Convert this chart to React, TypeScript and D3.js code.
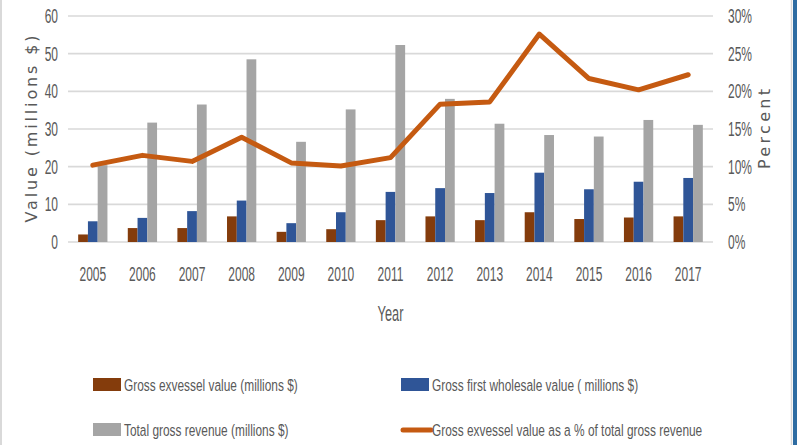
import React from "react";
import * as d3 from "d3";

const years = ["2005","2006","2007","2008","2009","2010","2011","2012","2013","2014","2015","2016","2017"];
const exvessel = [2.0, 3.7, 3.7, 6.8, 2.7, 3.4, 5.8, 6.8, 5.8, 7.9, 6.1, 6.5, 6.8];
const wholesale = [5.5, 6.4, 8.2, 11.0, 5.0, 7.9, 13.3, 14.3, 13.0, 18.4, 14.0, 16.0, 17.0];
const totalRevenue = [20.4, 31.7, 36.5, 48.5, 26.6, 35.2, 52.3, 38.0, 31.4, 28.4, 28.0, 32.4, 31.1];
const pctExvessel = [10.2, 11.5, 10.7, 13.9, 10.5, 10.1, 11.2, 18.3, 18.6, 27.6, 21.7, 20.2, 22.2];

const leftTicks = [0, 10, 20, 30, 40, 50, 60];
const rightTicks = [0, 0.05, 0.1, 0.15, 0.2, 0.25, 0.3];

const barSeries = [
  { key: "exvessel", name: "Gross exvessel value (millions $)", values: exvessel, color: "#843C0C" },
  { key: "wholesale", name: "Gross first wholesale value ( millions $)", values: wholesale, color: "#2F5597" },
  { key: "total", name: "Total gross revenue (millions $)", values: totalRevenue, color: "#A5A5A5" },
];
const lineName = "Gross exvessel value as a % of total gross revenue";
const lineColor = "#C55A11";

const W = 797, H = 445;
const M = { left: 68, right: 713, top: 16, bottom: 242 };
const TXT = "#595959";
const FONT = "'Liberation Sans', Arial, sans-serif";

function SqText({ x, y, sx, size, anchor, children, fill = TXT }: any) {
  return (
    <text transform={`translate(${x},${y}) scale(${sx},1)`} fontSize={size} fontFamily={FONT}
      fill={fill} textAnchor={anchor}>{children}</text>
  );
}

export default function App() {
  const x = d3.scaleBand<string>().domain(years).range([M.left, M.right]).paddingInner(0.41).paddingOuter(0.205);
  const x1 = d3.scaleBand<string>().domain(barSeries.map(s => s.key)).range([0, x.bandwidth()]);
  const y = d3.scaleLinear().domain([0, 60]).range([M.bottom, M.top]);
  const yR = d3.scaleLinear().domain([0, 0.3]).range([M.bottom, M.top]);
  const fmtPct = d3.format(".0%");

  const line = d3.line<number>()
    .x((_, i) => (x(years[i]) as number) + x.bandwidth() / 2)
    .y(d => yR(d / 100));

  const legend = [
    { type: "rect", name: barSeries[0].name, color: barSeries[0].color, lx: 93, ly: 385 },
    { type: "rect", name: barSeries[1].name, color: barSeries[1].color, lx: 401, ly: 385 },
    { type: "rect", name: barSeries[2].name, color: barSeries[2].color, lx: 93, ly: 430 },
    { type: "line", name: lineName, color: lineColor, lx: 401, ly: 430 },
  ];

  return (
    <svg width={W} height={H} style={{ position: "absolute", left: 0, top: 0, background: "#fff" }}>
      <rect x={0} y={0} width={W} height={H} fill="#fff" />
      {/* frame */}
      <line x1={1} x2={1} y1={0} y2={H} stroke="#D9D9D9" strokeWidth={2} />
      <line x1={791.5} x2={791.5} y1={0} y2={H} stroke="#D9D9D9" strokeWidth={1.5} />
      <rect x={793} y={0} width={4} height={H} fill="#2E6CA2" />

      {/* gridlines */}
      {leftTicks.map(t => (
        <line key={t} x1={M.left} x2={M.right} y1={y(t)} y2={y(t)} stroke="#D9D9D9" strokeWidth={1.6} />
      ))}

      {/* bars */}
      {years.map((yr, i) => (
        <g key={yr} transform={`translate(${x(yr)},0)`}>
          {barSeries.map(s => (
            <rect key={s.key} x={x1(s.key)} y={y(s.values[i])} width={x1.bandwidth()}
              height={y(0) - y(s.values[i])} fill={s.color} />
          ))}
        </g>
      ))}

      {/* line */}
      <path d={line(pctExvessel) || ""} fill="none" stroke={lineColor} strokeWidth={5}
        strokeLinejoin="round" strokeLinecap="round" />

      {/* left ticks */}
      {leftTicks.map(t => (
        <SqText key={t} x={58} y={y(t) + 7} sx={0.6} size={20} anchor="end">{t}</SqText>
      ))}
      {/* right ticks */}
      {rightTicks.map(t => (
        <SqText key={t} x={728} y={yR(t) + 7} sx={0.6} size={20} anchor="start">{fmtPct(t)}</SqText>
      ))}
      {/* year ticks */}
      {years.map(yr => (
        <SqText key={yr} x={(x(yr) as number) + x.bandwidth() / 2} y={281} sx={0.6} size={20} anchor="middle">{yr}</SqText>
      ))}
      <SqText x={(M.left + M.right) / 2} y={321} sx={0.58} size={22} anchor="middle">Year</SqText>

      {/* axis titles */}
      <text transform={`translate(37,${(M.top + M.bottom) / 2}) rotate(-90)`} textAnchor="middle"
        fontFamily="'DejaVu Sans', sans-serif" fontSize={16} fill={TXT}
        textLength={187} lengthAdjust="spacing">Value (millions $)</text>
      <text transform={`translate(770,${(M.top + M.bottom) / 2}) rotate(-90)`} textAnchor="middle"
        fontFamily="'DejaVu Sans', sans-serif" fontSize={16} fill={TXT}
        textLength={80} lengthAdjust="spacing">Percent</text>

      {/* legend */}
      {legend.map(l => (
        <g key={l.name}>
          {l.type === "rect" ? (
            <rect x={l.lx} y={l.ly - 7} width={28} height={13} fill={l.color} />
          ) : (
            <line x1={l.lx + 2} x2={l.lx + 30} y1={l.ly} y2={l.ly} stroke={l.color} strokeWidth={5} strokeLinecap="round" />
          )}
          <SqText x={l.lx + 31} y={l.ly + 6} sx={0.7} size={17} anchor="start">{l.name}</SqText>
        </g>
      ))}
    </svg>
  );
}
